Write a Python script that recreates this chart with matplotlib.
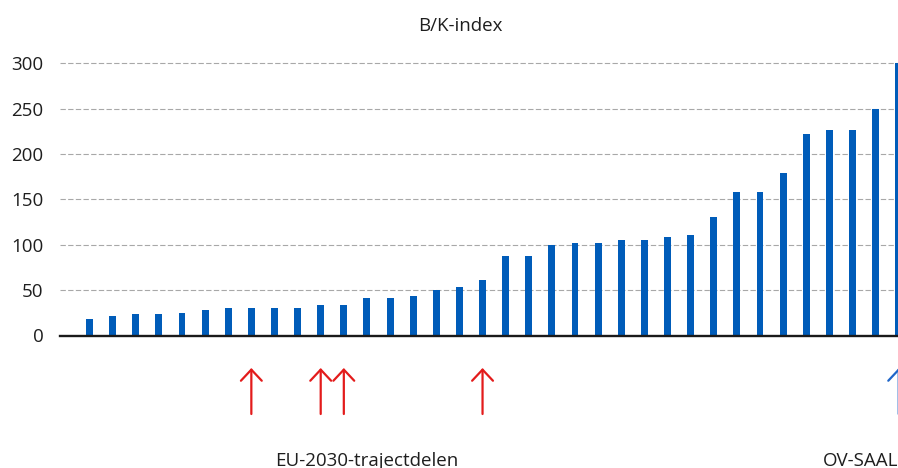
import matplotlib
matplotlib.use("Agg")
import matplotlib.pyplot as plt

plt.rcParams["font.family"] = ["Open Sans", "DejaVu Sans"]

# B/K-index per trajectdeel, gesorteerd oplopend
bk_index = [18, 21.5, 23.5, 23.5, 25, 28, 30, 30, 30, 30, 33.5, 33.5,
            41, 41, 43.5, 50, 53.5, 61, 88, 88, 100, 102, 102, 105, 105,
            108.5, 111, 131, 158, 158, 179, 222, 226.5, 226.5, 250, 300]
y_ticks = [0, 50, 100, 150, 200, 250, 300]

# markeringen onder de as
eu_2030_bars = [7, 10, 11, 17]
ov_saal_bars = [35]
eu_label = "EU-2030-trajectdelen"
ov_label = "OV-SAAL"

bar_color = "#005CB9"
red = "#E31B1B"
blue = "#1F66C9"
text_color = "#1e1e1e"
fs = 13.5

W, H = 898, 468
fig = plt.figure(figsize=(W / 100, H / 100), dpi=100)

# axes runs past the right edge, like the cropped original
left_px, right_px = 60, 910
zero_px, top_px = 335.5, 45.3  # y-pixel (from top) of 0 and 320
ax = fig.add_axes([left_px / W, (H - zero_px) / H,
                   (right_px - left_px) / W, (zero_px - top_px) / H])

x = list(range(len(bk_index)))
ax.bar(x, bk_index, width=0.30, color=bar_color, zorder=2)

step = 23.12
ax.set_xlim(-(89.5 - left_px) / step, (right_px - 89.5) / step)
ax.set_ylim(0, 320)
ax.set_yticks(y_ticks)
ax.set_xticks([])
ax.tick_params(axis="y", length=0, pad=12, labelsize=fs, labelcolor=text_color)

for s in ["top", "right", "left"]:
    ax.spines[s].set_visible(False)
ax.spines["bottom"].set_color("#1a1a1a")
ax.spines["bottom"].set_linewidth(1.7)
ax.spines["bottom"].set_zorder(3)

for v in y_ticks[1:]:
    ax.axhline(v, color="#a8a8a8", lw=0.8, ls=(0, (4.8, 2.1)), zorder=1)

# pijlen onder de as (x in data, y in axes-fractie)
trans = ax.get_xaxis_transform()
y_tip = (zero_px - 368) / (zero_px - top_px)
y_tail = (zero_px - 414) / (zero_px - top_px)
y_label = (zero_px - 465.5) / (zero_px - top_px)
for idx, col in [(i, red) for i in eu_2030_bars] + [(i, blue) for i in ov_saal_bars]:
    ax.annotate("", xy=(idx, y_tip), xytext=(idx, y_tail),
                xycoords=trans, textcoords=trans, annotation_clip=False,
                arrowprops=dict(arrowstyle="->,head_length=0.8,head_width=0.75",
                                color=col, lw=1.6, shrinkA=0, shrinkB=0,
                                mutation_scale=10))

fig.text(460 / W, (H - 30.7) / H, "B/K-index", ha="center", va="baseline",
         fontsize=fs, color=text_color)
ax.text((eu_2030_bars[0] + eu_2030_bars[-1]) / 2, y_label, eu_label,
        transform=trans, ha="center", va="baseline", fontsize=fs,
        color=text_color, clip_on=False)
fig.text(823 / W, (H - 465.5) / H, ov_label, ha="left", va="baseline",
         fontsize=fs, color=text_color)

fig.savefig("out.png", dpi=100)
